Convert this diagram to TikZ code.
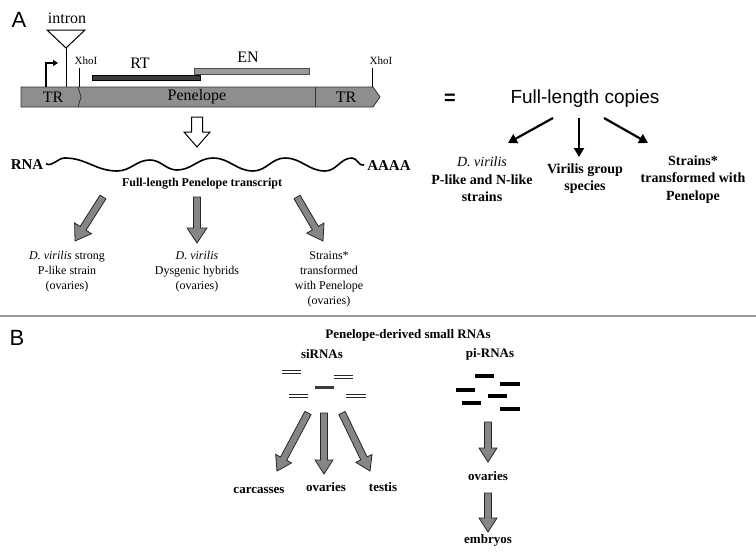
\documentclass[tikz,border=0pt]{standalone}
\usepackage{fontspec}
\setmainfont{Liberation Serif}
\newfontfamily\sansf{Liberation Sans}
\usetikzlibrary{calc,arrows.meta}
\definecolor{bargray}{HTML}{8E8E8E}
\definecolor{arrgray}{HTML}{868686}
\definecolor{darkbar}{HTML}{3C3C3C}
\definecolor{enbar}{HTML}{9C9C9C}
\definecolor{sepgray}{HTML}{999999}
\newcommand\fatarrow[6]{%
  \coordinate (fa-b) at ($(#3)!#6!(#2)$);
  \filldraw[#1] ($(#2)!#4!90:(#3)$) -- ($(fa-b)!#4!90:(#3)$) -- ($(fa-b)!#5!90:(#3)$) -- (#3) -- ($(fa-b)!#5!-90:(#3)$) -- ($(fa-b)!#4!-90:(#3)$) -- ($(#2)!#4!-90:(#3)$) -- cycle;}
\tikzset{
  grayarrow/.style={fill=arrgray, draw=black!85, line width=0.8pt, line join=miter},
  hollowarrow/.style={fill=white, draw=black, line width=1pt, line join=miter},
  blackarrow/.style={line width=2.2pt, -{Triangle[length=9pt,width=10pt]}},
  sidouble/.style={draw=black!85, double=white, double distance=1.3pt, line width=1pt},
  pibar/.style={line width=3.5pt, draw=black},
  serif16/.style={font=\fontsize{16}{18}\selectfont},
  smalltxt/.style={font=\fontsize{12}{15}\selectfont, align=center},
  righttxt/.style={font=\bfseries\fontsize{14}{17.5}\selectfont, align=center},
  btxt/.style={font=\bfseries\fontsize{13}{15}\selectfont},
  panel/.style={font=\sansf\fontsize{22}{24}\selectfont}
}
\begin{document}
\begin{tikzpicture}[x=1pt,y=-1pt, every node/.style={inner sep=0pt, outer sep=0pt}]
\useasboundingbox[fill=white] (0,0) rectangle (756,557);

% ---------- Panel A ----------
\node[panel] (labA) at (19,20) {A};
\node[serif16] (intron) at (67,18) {intron};
\coordinate (triL) at (47,30);
\coordinate (triR) at (85,30);
\coordinate (triApex) at (66,48);
\coordinate (intronBase) at (66,87);
\draw[line width=1pt] (triL) -- (triR) -- (triApex) -- cycle;
\draw[line width=1pt] (triApex) -- (intronBase);

% gene bar
\draw[fill=bargray, draw=black!80, line width=0.8pt] (21,87) -- (373,87) -- (380,97) -- (373,107) -- (21,107) -- cycle;
\draw[line width=0.8pt, draw=black!80] (78,87) -- (81,97) -- (78,107);
\draw[line width=0.8pt, draw=black!80] (315,87) -- (315,107);
\node[serif16] (trL) at (53,97) {TR};
\node[serif16] (pen) at (197,97) {Penelope};
\node[serif16] (trR) at (346,97) {TR};

% promoter
\coordinate (promA) at (46,87);
\coordinate (promB) at (46,63);
\coordinate (promC) at (58,63);
\draw[line width=1.5pt, -{Triangle[length=5pt,width=6pt]}] (promA) -- (promB) -- (promC);

% XhoI sites
\node[font=\fontsize{11}{12}\selectfont] (xho1) at (86,61) {XhoI};
\node[font=\fontsize{11}{12}\selectfont] (xho2) at (381,61) {XhoI};
\coordinate (x1a) at (79,68); \coordinate (x1b) at (79,87);
\coordinate (x2a) at (372,68); \coordinate (x2b) at (372,87);
\draw[line width=1pt] (x1a) -- (x1b);
\draw[line width=1pt] (x2a) -- (x2b);

% RT / EN
\filldraw[fill=darkbar, draw=black, line width=0.6pt] (92,75) rectangle (200,80);
\filldraw[fill=enbar, draw=black!70, line width=0.6pt] (194,68) rectangle (309,74);
\node[serif16] (rt) at (140,63) {RT};
\node[serif16] (en) at (248,57) {EN};

% hollow arrow
\coordinate (h1) at (197,117);
\coordinate (h2) at (197,147);
\fatarrow{hollowarrow}{h1}{h2}{5.5pt}{13pt}{15pt}

% RNA
\node[font=\bfseries\fontsize{15}{17}\selectfont] (rna) at (27,165) {RNA};
\node[font=\bfseries\fontsize{15}{17}\selectfont] (aaaa) at (389,166) {AAAA};
\coordinate (w0) at (46,164);
\coordinate (w11) at (364,165);
\draw[line width=1.6pt] (w0) to[out=-20,in=180] (65,158) to[out=0,in=180] (117,171)
  to[out=0,in=180] (150,160) to[out=0,in=180] (177,170) to[out=0,in=180] (213,158)
  to[out=0,in=180] (253,171) to[out=0,in=180] (285,158) to[out=0,in=180] (325,171)
  to[out=0,in=180] (352,158) to[out=0,in=200] (w11);
\node[font=\bfseries\fontsize{12}{14}\selectfont] (transcript) at (202,184) {Full-length Penelope transcript};

% gray arrows
\coordinate (g1s) at (103,197); \coordinate (g1e) at (75,241);
\coordinate (g2s) at (197,197); \coordinate (g2e) at (197,243);
\coordinate (g3s) at (297,197); \coordinate (g3e) at (323,241);
\fatarrow{grayarrow}{g1s}{g1e}{3.5pt}{10pt}{15pt}
\fatarrow{grayarrow}{g2s}{g2e}{3.5pt}{10pt}{15pt}
\fatarrow{grayarrow}{g3s}{g3e}{3.5pt}{10pt}{15pt}

\node[smalltxt] (t1) at (67,271.5) {\textit{D. virilis} strong\\P-like strain\\(ovaries)};
\node[smalltxt] (t2) at (197,271.5) {\textit{D. virilis}\\Dysgenic hybrids\\(ovaries)};
\node[smalltxt] (t3) at (329,279) {Strains*\\transformed\\with Penelope\\(ovaries)};

% right side
\node[font=\sansf\bfseries\fontsize{20}{22}\selectfont] (eq) at (450,99) {=};
\node[font=\sansf\fontsize{19}{22}\selectfont] (copies) at (585,99) {Full-length copies};
\coordinate (b1s) at (553,118); \coordinate (b1e) at (508,143);
\coordinate (b2s) at (579,118); \coordinate (b2e) at (579,157);
\coordinate (b3s) at (604,118); \coordinate (b3e) at (648,143);
\draw[blackarrow] (b1s) -- (b1e);
\draw[blackarrow] (b2s) -- (b2e);
\draw[blackarrow] (b3s) -- (b3e);
\node[righttxt] (c1) at (482,179.5) {\textmd{\textit{D. virilis}}\\P-like and N-like\\strains};
\node[righttxt] (c2) at (585,178.5) {Virilis group\\species};
\node[righttxt] (c3) at (693,179.5) {Strains*\\transformed with\\Penelope};

% separator
\coordinate (sepL) at (0,316); \coordinate (sepR) at (756,316);
\draw[line width=2pt, sepgray] (sepL) -- (sepR);

% ---------- Panel B ----------
\node[panel] (labB) at (17,338) {B};
\node[btxt] (pdsr) at (408,335) {Penelope-derived small RNAs};
\node[btxt] (sirna) at (322,354) {siRNAs};
\node[btxt] (pirna) at (490,354) {pi-RNAs};

% siRNA bars
\draw[sidouble] (282,372) -- (301,372);
\draw[sidouble] (334,377) -- (353,377);
\draw[line width=3pt, draw=darkbar] (315,387) -- (334,387);
\draw[sidouble] (289,396) -- (308,396);
\draw[sidouble] (346,396) -- (366,396);

% piRNA bars
\draw[pibar] (475,376) -- (494,376);
\draw[pibar] (500,384) -- (520,384);
\draw[pibar] (456,390) -- (475,390);
\draw[pibar] (488,396) -- (507,396);
\draw[pibar] (462,403) -- (481,403);
\draw[pibar] (500,409) -- (520,409);

% siRNA arrows
\coordinate (s1s) at (308,413); \coordinate (s1e) at (277,471);
\coordinate (s2s) at (324,413); \coordinate (s2e) at (324,474);
\coordinate (s3s) at (342,413); \coordinate (s3e) at (370,471);
\fatarrow{grayarrow}{s1s}{s1e}{3.5pt}{9pt}{14pt}
\fatarrow{grayarrow}{s2s}{s2e}{3.5pt}{9pt}{14pt}
\fatarrow{grayarrow}{s3s}{s3e}{3.5pt}{9pt}{14pt}
\node[btxt] (carc) at (259,490) {carcasses};
\node[btxt] (ov1) at (326,487) {ovaries};
\node[btxt] (testis) at (383,487) {testis};

% piRNA arrows
\coordinate (p1s) at (488,422); \coordinate (p1e) at (488,462);
\coordinate (p2s) at (488,493); \coordinate (p2e) at (488,532);
\fatarrow{grayarrow}{p1s}{p1e}{3.5pt}{9pt}{14pt}
\fatarrow{grayarrow}{p2s}{p2e}{3.5pt}{9pt}{14pt}
\node[btxt] (ov2) at (488,476) {ovaries};
\node[btxt] (emb) at (488,540) {embryos};
\end{tikzpicture}
\end{document}
